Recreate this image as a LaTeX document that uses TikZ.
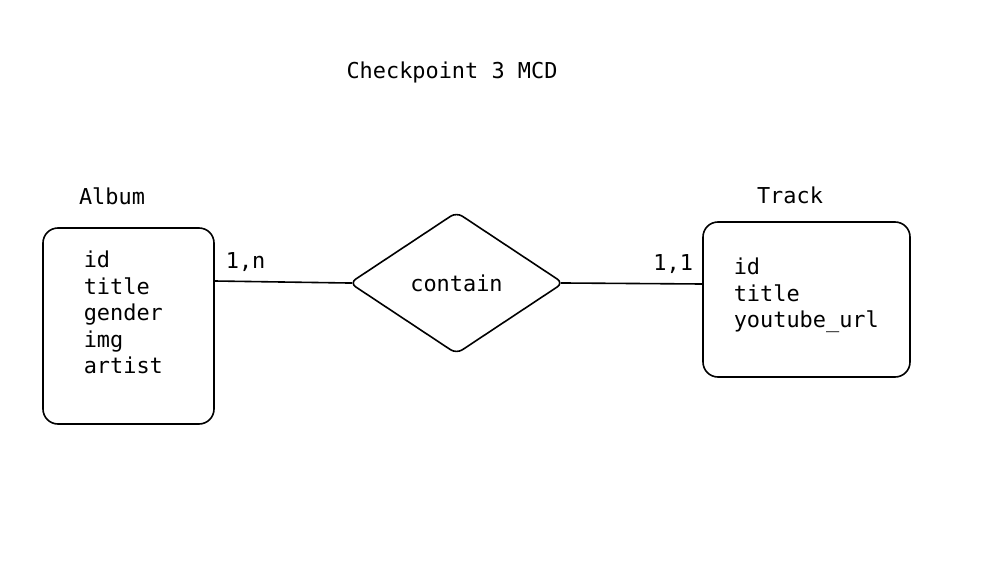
\documentclass[tikz,border=0pt]{standalone}
\usepackage{fontspec}
\setmainfont{DejaVu Sans Mono}
\usetikzlibrary{shapes.geometric}
\usetikzlibrary{positioning}

\begin{document}
\begin{tikzpicture}
	[x=1pt, y=-1pt, line width=1.6pt, font=\fontsize{21.9}{26.5}\selectfont,
	 entity/.style = {draw, rounded corners=15pt, inner sep=0pt},
	 attrs/.style = {align=left, anchor=north west, inner sep=0pt},
	 assoc/.style = {draw, diamond, rounded corners=7pt, inner sep=0pt,
	                 minimum width=214pt, minimum height=142pt}]
	\useasboundingbox (0,0) rectangle (985,586);

	\node (title) at (452,72.5) {Checkpoint 3 MCD};

	% entities
	\node[entity, minimum width=171pt, minimum height=196pt] (album) at (128.5,326) {};
	\node (albumname) at (112,196) {Album};
	\node[attrs] (albumattrs) at (83,250.5) {id\\title\\gender\\img\\artist};

	\node[entity, minimum width=207pt, minimum height=155pt] (track) at (806.5,299.5) {};
	\node (trackname) at (790,195) {Track};
	\node[attrs] (trackattrs) at (733,257.5) {id\\title\\youtube\_url};

	% association
	\node[assoc] (contain) at (456.5,283) {contain};

	\draw[shorten >=-3.4pt] ([yshift=45pt]album.east) -- node[pos=0.23, above=6pt] (card1) {1,n} (contain.west);
	\draw[shorten <=-3.4pt] (contain.east) -- node[pos=0.79, above=6pt] (card2) {1,1} ([yshift=15.5pt]track.west);
\end{tikzpicture}
\end{document}
